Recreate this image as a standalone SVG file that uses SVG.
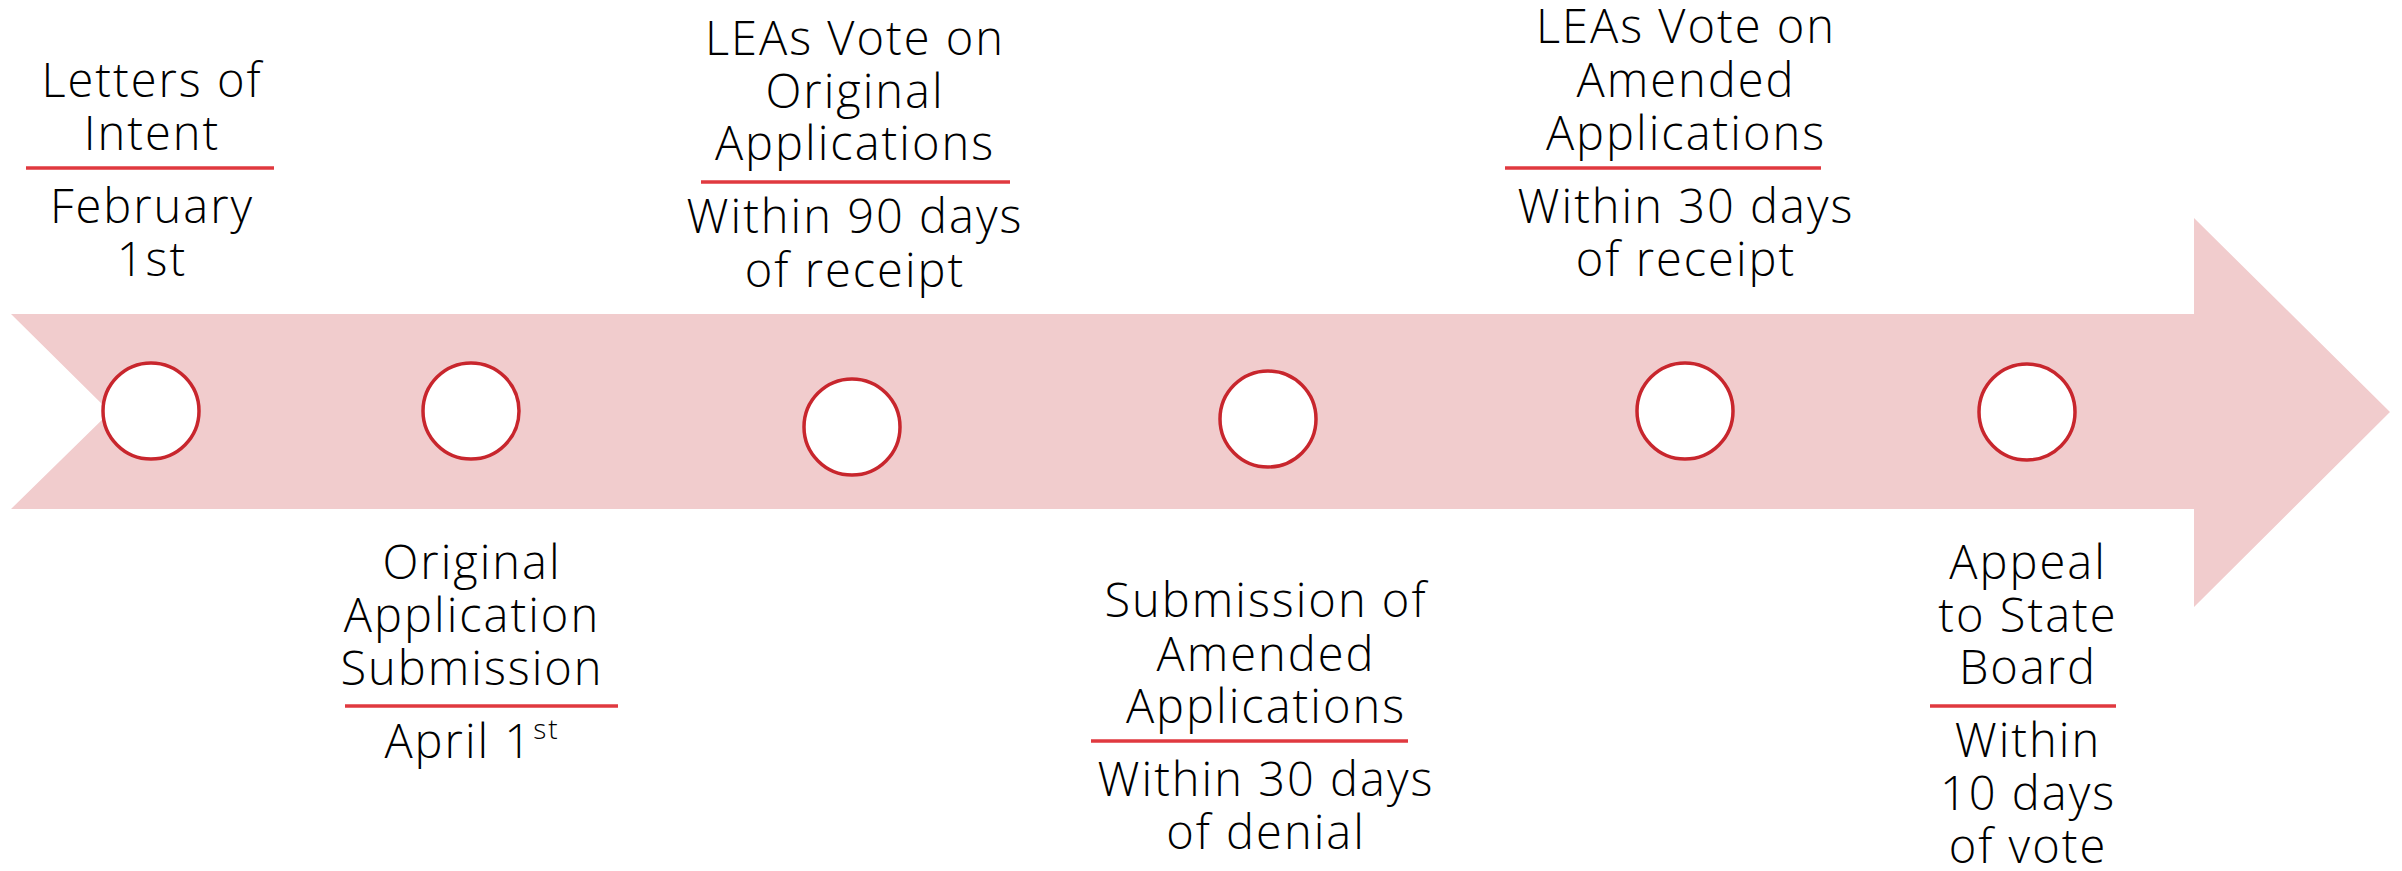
<svg xmlns="http://www.w3.org/2000/svg" width="2402" height="871" viewBox="0 0 2402 871">
<style>
.t{font-family:"Open Sans","Liberation Sans",sans-serif;font-size:47px;font-weight:300;letter-spacing:2px;fill:#000;text-anchor:middle}
.u{stroke:#E0393F;stroke-width:3.5}
.c{fill:#fff;stroke:#C8262D;stroke-width:3.5}
</style>
<rect width="2402" height="871" fill="#fff"/>
<g id="arrow">
<path d="M11 314 L2194 314 L2194 218 L2390 412 L2194 607 L2194 509 L11 509 L110 412 Z" fill="#F1CCCD"/>
</g>
<g id="connectors"></g>
<g id="n1">
<circle class="c" cx="151" cy="411" r="48"/>
<text class="t" x="152" y="97">Letters of</text>
<text class="t" x="152" y="150">Intent</text>
<line class="u" x1="26" y1="168" x2="274" y2="168"/>
<text class="t" x="152" y="223">February</text>
<text class="t" x="152" y="276">1st</text>
</g>
<g id="n2">
<circle class="c" cx="471" cy="411" r="48"/>
<text class="t" x="472" y="579">Original</text>
<text class="t" x="472" y="632">Application</text>
<text class="t" x="472" y="685">Submission</text>
<line class="u" x1="345" y1="706" x2="618" y2="706"/>
<text class="t" x="472" y="758">April 1<tspan font-size="28" dy="-19">st</tspan></text>
</g>
<g id="n3">
<circle class="c" cx="852" cy="427" r="48"/>
<text class="t" x="855" y="55">LEAs Vote on</text>
<text class="t" x="855" y="108">Original</text>
<text class="t" x="855" y="160">Applications</text>
<line class="u" x1="701" y1="182" x2="1010" y2="182"/>
<text class="t" x="855" y="233">Within 90 days</text>
<text class="t" x="855" y="287">of receipt</text>
</g>
<g id="n4">
<circle class="c" cx="1268" cy="419" r="48"/>
<text class="t" x="1266" y="617">Submission of</text>
<text class="t" x="1266" y="671">Amended</text>
<text class="t" x="1266" y="723">Applications</text>
<line class="u" x1="1091" y1="741" x2="1408" y2="741"/>
<text class="t" x="1266" y="796">Within 30 days</text>
<text class="t" x="1266" y="849">of denial</text>
</g>
<g id="n5">
<circle class="c" cx="1685" cy="411" r="48"/>
<text class="t" x="1686" y="43">LEAs Vote on</text>
<text class="t" x="1686" y="97">Amended</text>
<text class="t" x="1686" y="150">Applications</text>
<line class="u" x1="1505" y1="168" x2="1821" y2="168"/>
<text class="t" x="1686" y="223">Within 30 days</text>
<text class="t" x="1686" y="276">of receipt</text>
</g>
<g id="n6">
<circle class="c" cx="2027" cy="412" r="48"/>
<text class="t" x="2028" y="579">Appeal</text>
<text class="t" x="2028" y="632">to State</text>
<text class="t" x="2028" y="684">Board</text>
<line class="u" x1="1930" y1="706" x2="2116" y2="706"/>
<text class="t" x="2028" y="757">Within</text>
<text class="t" x="2028" y="810">10 days</text>
<text class="t" x="2028" y="863">of vote</text>
</g>
</svg>
